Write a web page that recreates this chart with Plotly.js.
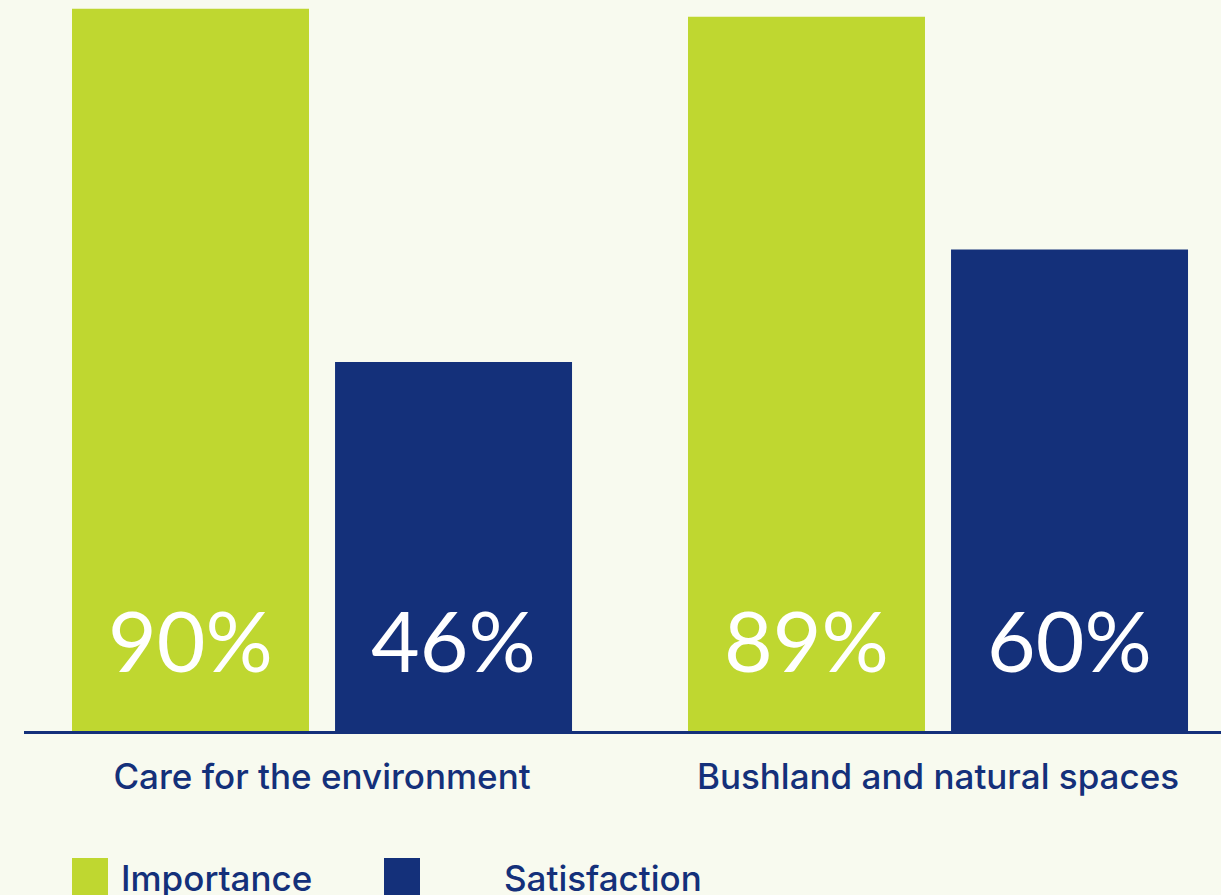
<!DOCTYPE html>
<html>
<head>
<meta charset="utf-8">
<script src="https://cdn.plot.ly/plotly-3.0.1.min.js"></script>
<style>
html,body{margin:0;padding:0;background:#f8faef;}
#chart{width:1221px;height:895px;}
</style>
</head>
<body>
<div id="chart"></div>
<script>
const categories = ["Care for the environment", "Bushland and natural spaces"];
const importance = [90, 89];
const satisfaction = [46, 60];
const seriesNames = ["Importance", "Satisfaction"];

const GREEN = "#bfd730";
const NAVY = "#14307a";
const BG = "#f8faef";

const traces = [
  {type: "bar", name: seriesNames[0], x: categories, y: importance,
   marker: {color: GREEN}, hoverinfo: "none", showlegend: false},
  {type: "bar", name: seriesNames[1], x: categories, y: satisfaction,
   marker: {color: NAVY}, hoverinfo: "none", showlegend: false}
];

// value labels near the bottom of each bar
const annotations = [];
const seriesVals = [importance, satisfaction];
const offsets = [-0.2135, 0.2135];
seriesVals.forEach((vals, s) => {
  vals.forEach((v, i) => {
    annotations.push({
      x: i + offsets[s], y: 0, xref: "x", yref: "y",
      text: v + "%", showarrow: false, yanchor: "middle", yshift: 92,
      font: {family: "Lato", size: 84, color: "#ffffff"}
    });
  });
});

// custom legend
const plotW = 1221 - 24, plotH = 731;
const px = x => (x - 24) / plotW;
const py = y => (731 - y) / plotH;
const legendItems = [
  {sq: 72, tx: 119, color: GREEN, name: seriesNames[0]},
  {sq: 384, tx: 502, color: NAVY, name: seriesNames[1]}
];
const shapes = [];
legendItems.forEach(it => {
  shapes.push({type: "rect", xref: "paper", yref: "paper",
    x0: px(it.sq), x1: px(it.sq + 36), y0: py(858), y1: py(910),
    fillcolor: it.color, line: {width: 0}});
  annotations.push({xref: "paper", yref: "paper", x: px(it.tx), y: py(878),
    xanchor: "left", yanchor: "middle", showarrow: false, text: it.name,
    font: {family: "Inter", size: 35, color: NAVY, weight: 500}});
});

const layout = {
  width: 1221, height: 895,
  margin: {l: 24, r: 0, t: 0, b: 164},
  paper_bgcolor: BG, plot_bgcolor: BG,
  barmode: "group", bargap: 0.146, bargroupgap: 0.099,
  xaxis: {
    type: "category", range: [-0.4838, 1.4594],
    showline: true, linecolor: NAVY, linewidth: 2.5,
    ticks: "", showgrid: false, zeroline: false,
    tickfont: {family: "Inter", size: 35, color: NAVY, weight: 500},
    ticklabelstandoff: 13, fixedrange: true
  },
  yaxis: {range: [0, 91.1], visible: false, showgrid: false, zeroline: false, fixedrange: true},
  showlegend: false,
  annotations: annotations,
  shapes: shapes
};

Plotly.newPlot("chart", traces, layout, {displayModeBar: false, staticPlot: true});
</script>
</body>
</html>
